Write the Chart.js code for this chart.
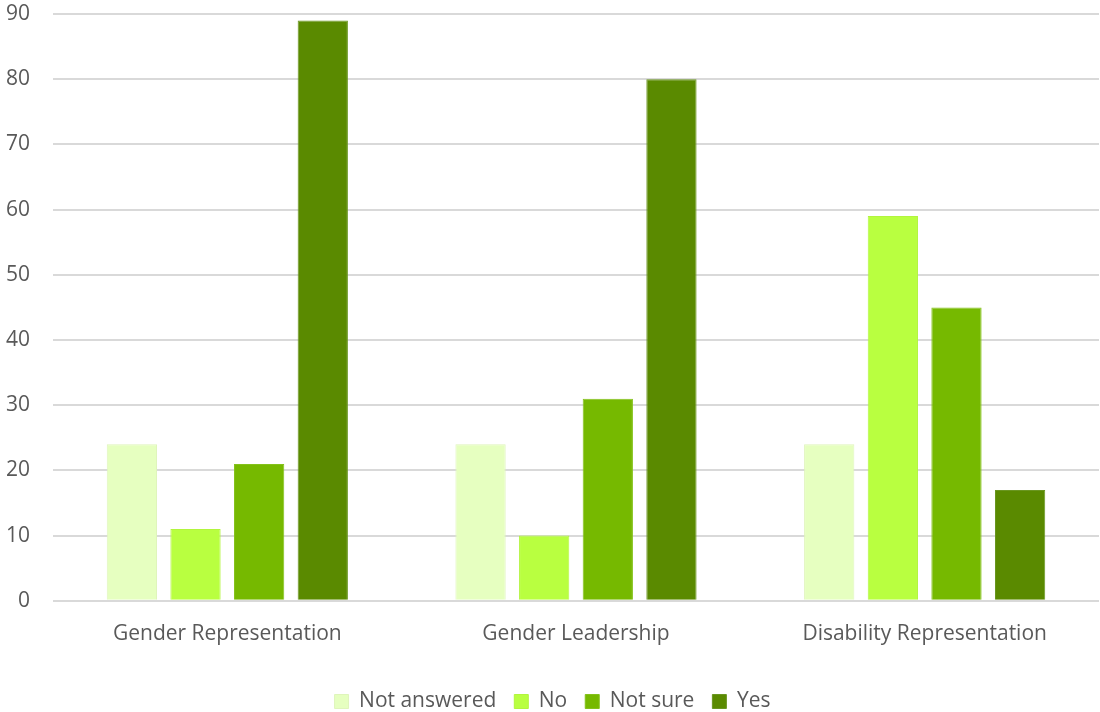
<!DOCTYPE html>
<html>
<head>
<meta charset="utf-8">
<script src="https://cdn.jsdelivr.net/npm/chart.js"></script>
<style>
  html, body { margin: 0; padding: 0; background: #fff; }
  #wrap { width: 1100px; height: 712px; position: relative; }
</style>
</head>
<body>
<div id="wrap"><canvas id="survey"></canvas></div>
<script>
// survey answers per question
const questions = ["Gender Representation", "Gender Leadership", "Disability Representation"];
const notAnswered = [24, 24, 24];
const no = [11, 10, 59];
const notSure = [21, 31, 45];
const yes = [89, 80, 17];

const answerNames = ["Not answered", "No", "Not sure", "Yes"];
const answerColors = ["#e6ffc0", "#b9ff40", "#76b900", "#5a8a00"];
const answerBorders = ["#dff5bb", "#b2f53e", "#84c21a", "#6a9620"];

const answers = [notAnswered, no, notSure, yes];

const sets = answers.map(function (vals, i) {
  return {
    label: answerNames[i],
    data: vals,
    backgroundColor: answerColors[i],
    borderColor: answerBorders[i],
    borderWidth: 1,
    categoryPercentage: 0.73,
    barPercentage: 0.79
  };
});

const textFont = { family: "Open Sans", size: 21 };

new Chart("survey", {
  type: "bar",
  data: { labels: questions, datasets: sets },
  options: {
    responsive: true,
    maintainAspectRatio: false,
    animation: false,
    layout: { padding: { left: 6, right: 1, top: 0, bottom: -10 } },
    scales: {
      x: {
        grid: { display: false, drawTicks: false },
        border: { display: false },
        ticks: { color: "#595959", font: textFont, padding: 21 },
        // a little extra room between the labels and the legend
        afterFit: function (scale) { scale.height += 5; }
      },
      y: {
        min: 0,
        max: 90,
        ticks: { stepSize: 10, color: "#595959", font: textFont, padding: 23 },
        grid: { color: "#d9d9d9", lineWidth: 2, drawTicks: false },
        border: { display: false },
        // fixed axis width, and don't let the tick padding push the top down
        afterFit: function (scale) {
          scale.width = 47;
          scale.paddingTop = 14;
          scale.paddingBottom = 0;
        }
      }
    },
    plugins: {
      legend: {
        position: "bottom",
        labels: {
          color: "#595959",
          font: textFont,
          boxWidth: 14,
          boxHeight: 14,
          padding: 18
        }
      },
      tooltip: { enabled: false }
    }
  }
});
</script>
</body>
</html>
